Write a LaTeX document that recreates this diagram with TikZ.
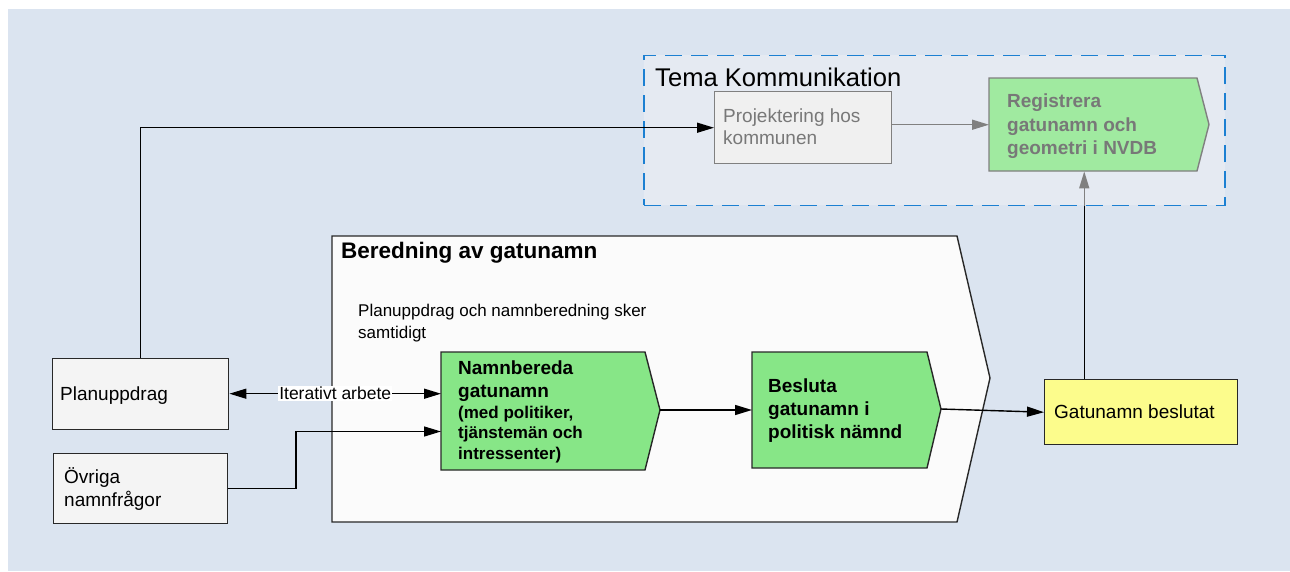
\documentclass[tikz,border=0pt]{standalone}
\usepackage{fontspec}
\setmainfont{Liberation Sans}
\usetikzlibrary{arrows.meta,calc}
\definecolor{bgblue}{RGB}{219,228,240}
\definecolor{temafill}{RGB}{229,234,242}
\definecolor{dashblue}{RGB}{28,128,210}
\definecolor{boxgreen}{RGB}{135,230,135}
\definecolor{lgreen}{RGB}{160,234,160}
\definecolor{boxyellow}{RGB}{252,252,140}
\definecolor{lightbox}{RGB}{244,244,244}
\definecolor{projfill}{RGB}{240,240,240}
\definecolor{berfill}{RGB}{251,251,251}
\definecolor{grayline}{RGB}{128,128,128}
\definecolor{graytext}{RGB}{120,120,120}
\definecolor{bordergray}{RGB}{40,40,40}
\begin{document}
\begin{tikzpicture}[x=1pt,y=-1pt,
  fs/.style 2 args={font=\fontsize{#1}{#2}\selectfont},
  fsb/.style 2 args={font=\fontsize{#1}{#2}\selectfont\bfseries},
  outline/.style={draw=bordergray, line width=1.4pt},
  anchorbox/.style={inner sep=0pt, anchor=north west},
  rectbox/.style={outline, anchorbox, fill=lightbox, minimum width=176pt, minimum height=71pt},
  lbl/.style={anchor=base west, inner sep=0pt},
  tipb/.tip={Triangle[length=17pt,width=10pt]},
  conn/.style={line width=1.4pt, -tipb},
  gconn/.style={line width=1.4pt, draw=grayline, -{Triangle[length=17pt,width=10pt,fill=grayline]}},
]
\useasboundingbox (0,0) rectangle (1290,571);
\fill[bgblue] (8,9) rectangle (1290,571);

% Tema Kommunikation group
\node[anchorbox, draw=dashblue, line width=1.6pt, dash pattern=on 17pt off 9pt, fill=temafill,
      minimum width=581pt, minimum height=150pt] (tema) at (643,54.5) {};
\node[lbl, fs={25.6}{30}] (temaT) at (655,86) {Tema Kommunikation};

% Projektering
\node[anchorbox, draw=grayline, line width=1.4pt, fill=projfill, minimum width=177pt, minimum height=72pt] (proj) at (714,91) {};
\node[lbl, fs={19}{22}, text=graytext] (projT1) at (723,122) {Projektering hos};
\node[lbl, fs={19}{22}, text=graytext] (projT2) at (723,144) {kommunen};

% Registrera (pentagon)
\draw[draw=grayline, line width=1.4pt, fill=lgreen] (989,78) -- (1197,78) -- (1209,124.5) -- (1197,171) -- (989,171) -- cycle;
\node[anchorbox, minimum width=208pt, minimum height=93pt] (reg) at (989,78) {};
\node[lbl, fsb={19}{23}, text=graytext] (regT1) at (1007,107) {Registrera};
\node[lbl, fsb={19}{23}, text=graytext] (regT2) at (1007,131) {gatunamn och};
\node[lbl, fsb={19}{23}, text=graytext] (regT3) at (1007,154) {geometri i NVDB};

% Beredning av gatunamn (pentagon)
\draw[outline, fill=berfill] (332,236) -- (957,236) -- (990,378) -- (957,522) -- (332,522) -- cycle;
\node[anchorbox, minimum width=625pt, minimum height=286pt] (ber) at (332,236) {};
\node[lbl, fsb={22.5}{27}] (berT) at (341,258) {Beredning av gatunamn};
\node[lbl, fs={17}{22}] (samT1) at (358,316) {Planuppdrag och namnberedning sker};
\node[lbl, fs={17}{22}] (samT2) at (358,338) {samtidigt};

% Namnbereda gatunamn
\draw[outline, fill=boxgreen] (441,352) -- (645,352) -- (660,410) -- (645,470) -- (441,470) -- cycle;
\node[anchorbox, minimum width=204pt, minimum height=118pt] (nb) at (441,352) {};
\coordinate (nbtip) at (660,410);
\node[lbl, fsb={19}{23}] (nbT1) at (458,374) {Namnbereda};
\node[lbl, fsb={19}{23}] (nbT2) at (458,397) {gatunamn};
\node[lbl, fsb={17}{20}] (nbT3) at (458,418) {(med politiker,};
\node[lbl, fsb={17}{20}] (nbT4) at (458,438) {tjänstemän och};
\node[lbl, fsb={17}{20}] (nbT5) at (458,459) {intressenter)};

% Besluta gatunamn
\draw[outline, fill=boxgreen] (752,352) -- (927,352) -- (941,409) -- (927,468) -- (752,468) -- cycle;
\node[anchorbox, minimum width=175pt, minimum height=116pt] (bes) at (752,352) {};
\coordinate (bestip) at (941,409);
\node[lbl, fsb={19}{23}] (besT1) at (768,392) {Besluta};
\node[lbl, fsb={19}{23}] (besT2) at (768,415) {gatunamn i};
\node[lbl, fsb={19}{23}] (besT3) at (768,438) {politisk nämnd};

% Gatunamn beslutat
\node[anchorbox, outline, fill=boxyellow, minimum width=193pt, minimum height=65pt] (gb) at (1044,379) {};
\node[lbl, fs={19}{23}] (gbT) at (1054,418) {Gatunamn beslutat};

% Planuppdrag and Övriga namnfrågor
\node[rectbox] (plan) at (52,357.5) {};
\node[lbl, fs={19}{23}] (planT) at (60,400) {Planuppdrag};
\node[rectbox, minimum width=174pt, minimum height=70pt] (ovr) at (53,453) {};
\node[lbl, fs={19}{23}] (ovrT1) at (64,483) {Övriga};
\node[lbl, fs={19}{23}] (ovrT2) at (64,506) {namnfrågor};

% Connectors
\draw[conn] (plan.north) |- (proj.west);
\draw[gconn] (proj.east |- reg.west) -- (reg.west);
\draw[line width=1.4pt, tipb-tipb] (plan.east) -- node[fill=white, inner sep=1pt, fs={17.5}{20}] (iter) {Iterativt arbete} (nb.west |- plan.east);
\coordinate (bend) at (296,431.5);
\draw[conn] (ovr.east) -| (bend) -- (nb.west |- bend);
\draw[conn] (nbtip) -- (bes.west |- nbtip);
\draw[conn] (bestip) -- (gb.west);
\coordinate (up) at ($(gb.north west)!0.207!(gb.north east)$);
\draw[line width=1.4pt] (up) -- (up |- tema.south);
\draw[gconn] (up |- tema.south) -- (up |- reg.south);
\end{tikzpicture}
\end{document}
